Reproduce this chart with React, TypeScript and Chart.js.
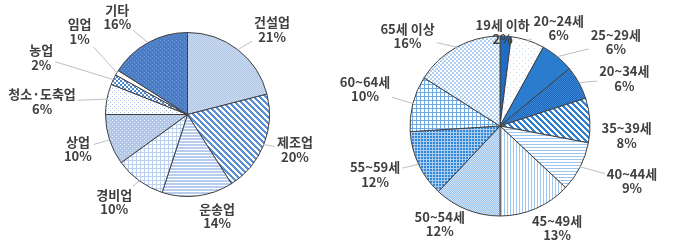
import React, { useEffect, useRef } from "react";
import { Chart, registerables } from "chart.js";
Chart.register(...registerables);

// ---------- data ----------
const industryLabels = ["건설업", "제조업", "운송업", "경비업", "상업", "청소·도축업", "농업", "임업", "기타"];
const industryShares = [21, 20, 14, 10, 10, 6, 2, 1, 16];

const ageLabels = ["19세 이하", "20~24세", "25~29세", "20~34세", "35~39세", "40~44세", "45~49세", "50~54세", "55~59세", "60~64세", "65세 이상"];
const ageShares = [2, 6, 6, 6, 8, 9, 13, 12, 12, 10, 16];

// ---------- label layout (style) ----------
const industryLabelNudge = [7, -3.5, -9, 4, 0.4, -5.7, -3.9, 6.9, -7];
const industryLabelDist = [120, 113, 106, 114, 115, 146, 157, 136, 120];
const industryLeader = [true, true, false, true, true, true, true, true, true];

const ageLabelNudge = [-2, 13, 14.5, 8, 8, -4.4, -5.8, 10, 4, 1, -17];
const ageLabelDist = [94, 114, 143, 133, 127, 143, 117, 115, 134, 140, 129];
const ageLeader = [false, true, true, true, false, true, false, false, true, true, true];

// ---------- pattern helpers ----------
function tile(w: number, h: number, bg: string, draw: (x: CanvasRenderingContext2D) => void) {
  const c = document.createElement("canvas");
  c.width = w;
  c.height = h;
  const x = c.getContext("2d")!;
  x.fillStyle = bg;
  x.fillRect(0, 0, w, h);
  draw(x);
  return x.createPattern(c, "repeat")!;
}
const checker = (bg: string, fg: string, cell: number) =>
  tile(cell * 2, cell * 2, bg, (x) => {
    x.fillStyle = fg;
    x.fillRect(0, 0, cell, cell);
    x.fillRect(cell, cell, cell, cell);
  });
const dots = (bg: string, fg: string, p: number) =>
  tile(p * 2, p * 2, bg, (x) => {
    x.fillStyle = fg;
    x.fillRect(0, 0, 1, 1);
    x.fillRect(p, p, 1, 1);
  });
const diagDown = (bg: string, fg: string, p: number, t: number) =>
  tile(p, p, bg, (x) => {
    x.fillStyle = fg;
    for (let yy = 0; yy < p; yy++)
      for (let xx = 0; xx < p; xx++) if ((((xx - yy) % p) + p) % p < t) x.fillRect(xx, yy, 1, 1);
  });
const hLines = (bg: string, fg: string, p: number, t: number) =>
  tile(p, p, bg, (x) => {
    x.fillStyle = fg;
    x.fillRect(0, 0, p, t);
  });
const vLines = (bg: string, fg: string, p: number, t: number) =>
  tile(p, p, bg, (x) => {
    x.fillStyle = fg;
    x.fillRect(0, 0, t, p);
  });
const grid = (bg: string, fg: string, p: number) =>
  tile(p, p, bg, (x) => {
    x.fillStyle = fg;
    x.fillRect(0, 0, p, 1);
    x.fillRect(0, 0, 1, p);
  });

const industryFills = () => [
  checker("#c8d8ef", "#b4c8e7", 1),
  diagDown("#ffffff", "#5b8fd8", 6, 3),
  hLines("#ffffff", "#b8cdee", 3, 2),
  grid("#ffffff", "#bcd1ef", 4),
  dots("#b3c8e9", "#e2ebf7", 2),
  dots("#ffffff", "#a9c3ea", 2),
  checker("#ffffff", "#4f86d2", 2),
  "#ffffff",
  dots("#4a7dc6", "#6d98d4", 2),
];

const ageFills = () => [
  "#1e6cc4",
  dots("#ffffff", "#bcd5f0", 3),
  "#2a7ccf",
  checker("#1865bd", "#3f88d6", 1),
  diagDown("#ffffff", "#2f80d3", 6, 3),
  hLines("#ffffff", "#9fc6ee", 3, 1),
  vLines("#ffffff", "#9fc6ee", 3, 1),
  checker("#9cc4ee", "#d0e3f7", 1),
  grid("#3385d6", "#a9cef2", 3),
  grid("#ffffff", "#6faae4", 4),
  checker("#ffffff", "#b0d1f2", 2),
];

// ---------- outside-label plugin ----------
function outsideLabels(texts: string[], values: number[], nudges: number[], dists: number[], leaders: boolean[]) {
  return {
    id: "outsideLabels",
    afterDatasetsDraw(chart: any) {
      const ctx: CanvasRenderingContext2D = chart.ctx;
      const meta = chart.getDatasetMeta(0);
      ctx.save();
      ctx.font = 'bold 13px "Noto Sans CJK KR", "Noto Sans", sans-serif';
      ctx.textAlign = "center";
      ctx.textBaseline = "middle";
      const lh = 14.5;
      meta.data.forEach((arc: any, i: number) => {
        const { x, y, startAngle, endAngle, outerRadius } = arc.getProps(
          ["x", "y", "startAngle", "endAngle", "outerRadius"],
          true
        );
        const mid = (startAngle + endAngle) / 2;
        const a = mid + (nudges[i] * Math.PI) / 180;
        const lx = x + Math.cos(a) * dists[i];
        const ly = y + Math.sin(a) * dists[i];
        const lines = [texts[i], `${values[i]}%`];
        const w = Math.max(...lines.map((l) => ctx.measureText(l).width));
        const h = lh * 2;
        if (leaders[i]) {
          const sx = x + Math.cos(mid) * outerRadius;
          const sy = y + Math.sin(mid) * outerRadius;
          const dx = sx - lx;
          const dy = sy - ly;
          const tx = Math.abs(dx) > 0.001 ? (w / 2 + 2) / Math.abs(dx) : Infinity;
          const ty = Math.abs(dy) > 0.001 ? (h / 2 + 1) / Math.abs(dy) : Infinity;
          const t = Math.min(tx, ty);
          if (t < 1) {
            ctx.strokeStyle = "#bfbfbf";
            ctx.lineWidth = 1;
            ctx.beginPath();
            ctx.moveTo(sx, sy);
            ctx.lineTo(lx + dx * t, ly + dy * t);
            ctx.stroke();
          }
        }
        ctx.fillStyle = "#404040";
        ctx.fillText(lines[0], lx, ly - lh / 2);
        ctx.fillText(lines[1], lx, ly + lh / 2);
      });
      ctx.restore();
    },
  };
}

// ---------- component ----------
type PieProps = {
  left: number;
  width: number;
  labels: string[];
  values: number[];
  fills: () => any[];
  radius: number;
  padding: { left: number; right: number; top: number; bottom: number };
  nudges: number[];
  dists: number[];
  leaders: boolean[];
};

function PatternPie(p: PieProps) {
  const ref = useRef<HTMLCanvasElement>(null);
  useEffect(() => {
    if (!ref.current) return;
    const chart = new Chart(ref.current, {
      type: "pie",
      data: {
        labels: p.labels,
        datasets: [
          {
            data: p.values,
            backgroundColor: p.fills(),
            borderColor: "#404040",
            borderWidth: 1,
          },
        ],
      },
      options: {
        responsive: false,
        animation: false,
        radius: p.radius,
        layout: { padding: p.padding },
        plugins: { legend: { display: false }, tooltip: { enabled: false } },
      } as any,
      plugins: [outsideLabels(p.labels, p.values, p.nudges, p.dists, p.leaders)],
    });
    return () => chart.destroy();
  }, []);
  return (
    <canvas
      ref={ref}
      width={p.width}
      height={244}
      style={{ position: "absolute", left: p.left, top: 0, width: p.width, height: 244 }}
    />
  );
}

export default function App() {
  return (
    <div style={{ position: "fixed", left: 0, top: 0, width: 673, height: 244, background: "#ffffff", overflow: "hidden" }}>
      <PatternPie
        left={0}
        width={336}
        labels={industryLabels}
        values={industryShares}
        fills={industryFills}
        radius={82}
        padding={{ left: 39, right: 0, top: 0, bottom: 15 }}
        nudges={industryLabelNudge}
        dists={industryLabelDist}
        leaders={industryLeader}
      />
      <PatternPie
        left={336}
        width={337}
        labels={ageLabels}
        values={ageShares}
        fills={ageFills}
        radius={90}
        padding={{ left: 0, right: 9, top: 8, bottom: 0 }}
        nudges={ageLabelNudge}
        dists={ageLabelDist}
        leaders={ageLeader}
      />
    </div>
  );
}
